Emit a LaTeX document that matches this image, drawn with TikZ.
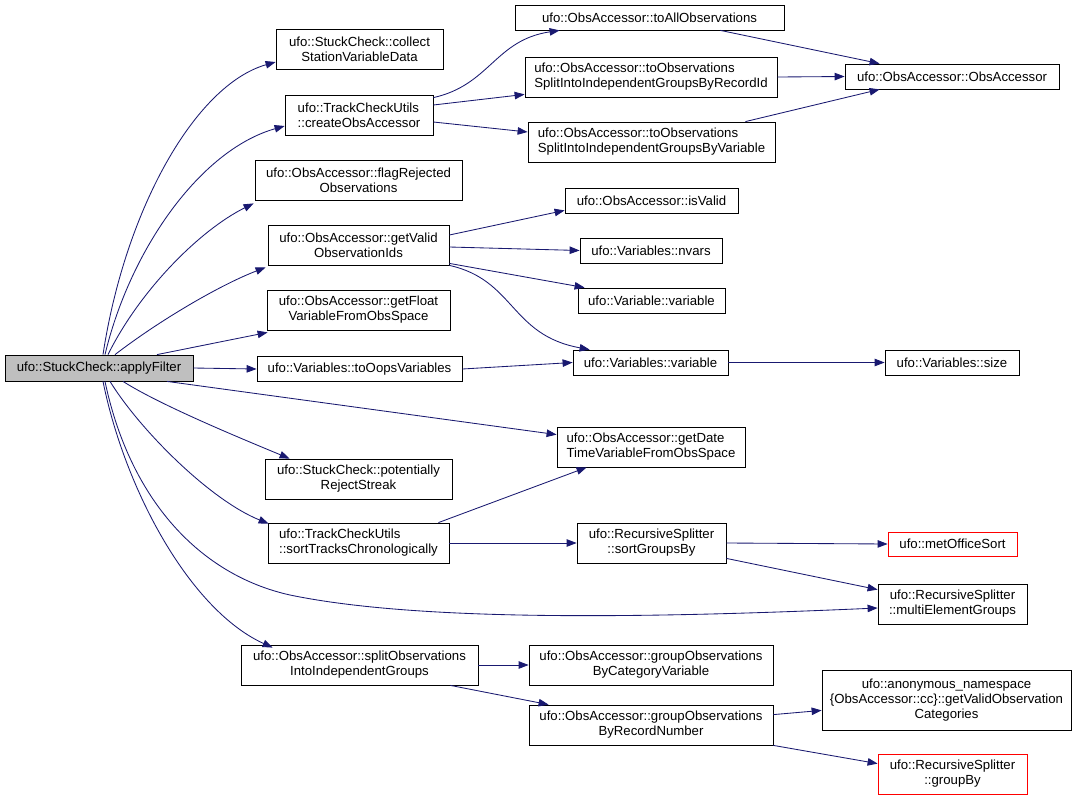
\documentclass[tikz,border=0pt]{standalone}
\usepackage{fontspec}
\setmainfont{Liberation Sans}
\usetikzlibrary{arrows.meta}
\definecolor{edgeblue}{HTML}{191970}
\definecolor{afgray}{HTML}{BFBFBF}
\newcommand{\nodefont}{\fontsize{13.2}{15}\selectfont}
\tikzset{
  box/.style={draw=black, line width=0.8pt, inner sep=0pt, font=\nodefont, align=center},
  lbox/.style={box, align=left},
  redbox/.style={box, draw=red},
  conn/.style={draw=edgeblue, line width=0.85pt, -{Triangle[length=10pt,width=7.5pt]}},
}
\begin{document}
\begin{tikzpicture}[x=1pt,y=-1pt]
\useasboundingbox (0,0) rectangle (1085,801);
% column 1
\node[box, fill=afgray, minimum width=188pt, minimum height=26pt] (af) at (99,368) {ufo::StuckCheck::applyFilter};
% column 2
\node[box, minimum width=167pt, minimum height=40pt] (collect) at (359.5,49) {ufo::StuckCheck::collect\\StationVariableData};
\node[lbox, minimum width=148pt, minimum height=40pt] (create) at (359,115) {ufo::TrackCheckUtils\\::createObsAccessor};
\node[box, minimum width=207pt, minimum height=40pt] (flag) at (358.5,180) {ufo::ObsAccessor::flagRejected\\Observations};
\node[box, minimum width=181pt, minimum height=40pt] (gv) at (358.5,245) {ufo::ObsAccessor::getValid\\ObservationIds};
\node[box, minimum width=183pt, minimum height=40pt] (gf) at (358.5,310) {ufo::ObsAccessor::getFloat\\VariableFromObsSpace};
\node[box, minimum width=205pt, minimum height=25pt] (oops) at (359.5,369) {ufo::Variables::toOopsVariables};
\node[box, minimum width=187pt, minimum height=40pt] (pot) at (358.5,479) {ufo::StuckCheck::potentially\\RejectStreak};
\node[lbox, minimum width=181pt, minimum height=40pt] (st) at (358.5,543) {ufo::TrackCheckUtils\\::sortTracksChronologically};
\node[box, minimum width=237pt, minimum height=40pt] (split) at (359.5,665) {ufo::ObsAccessor::splitObservations\\IntoIndependentGroups};
% column 3
\node[box, minimum width=269pt, minimum height=25pt] (toall) at (649.5,17.5) {ufo::ObsAccessor::toAllObservations};
\node[lbox, minimum width=252pt, minimum height=40pt] (recid) at (651,77) {ufo::ObsAccessor::toObservations\\SplitIntoIndependentGroupsByRecordId};
\node[lbox, minimum width=247pt, minimum height=40pt] (byvar) at (651.5,142) {ufo::ObsAccessor::toObservations\\SplitIntoIndependentGroupsByVariable};
\node[box, minimum width=173pt, minimum height=25pt] (iv) at (651.5,200.5) {ufo::ObsAccessor::isValid};
\node[box, minimum width=142pt, minimum height=25pt] (nv) at (651,250.5) {ufo::Variables::nvars};
\node[box, minimum width=147pt, minimum height=25pt] (vv) at (651.5,300.5) {ufo::Variable::variable};
\node[box, minimum width=155pt, minimum height=25pt] (vsv) at (650.5,362.5) {ufo::Variables::variable};
\node[lbox, minimum width=188pt, minimum height=40pt] (gd) at (651,447) {ufo::ObsAccessor::getDate\\TimeVariableFromObsSpace};
\node[box, minimum width=149pt, minimum height=40pt] (sgb) at (651.5,543) {ufo::RecursiveSplitter\\::sortGroupsBy};
\node[box, minimum width=244pt, minimum height=40pt] (gbc) at (651,665) {ufo::ObsAccessor::groupObservations\\ByCategoryVariable};
\node[box, minimum width=244pt, minimum height=40pt] (gbr) at (651,725) {ufo::ObsAccessor::groupObservations\\ByRecordNumber};
% column 4
\node[box, minimum width=214pt, minimum height=25pt] (oa) at (952,76.5) {ufo::ObsAccessor::ObsAccessor};
\node[box, minimum width=134pt, minimum height=25pt] (size) at (952,362.5) {ufo::Variables::size};
\node[redbox, minimum width=129pt, minimum height=24pt] (mos) at (952.5,544) {ufo::metOfficeSort};
\node[box, minimum width=149pt, minimum height=40pt] (multi) at (952.5,604) {ufo::RecursiveSplitter\\::multiElementGroups};
\node[box, minimum width=249pt, minimum height=60pt] (anon) at (946.5,700) {ufo::anonymous\_namespace\\\{ObsAccessor::cc\}::getValidObservation\\Categories};
\node[redbox, minimum width=149pt, minimum height=40pt] (gb) at (952.5,774) {ufo::RecursiveSplitter\\::groupBy};

% edges from applyFilter
\draw[conn] ([xshift=4pt]af.north) .. controls (125,210) and (195,85) .. ([yshift=-13pt]collect.west);
\draw[conn] ([xshift=6pt]af.north) .. controls (130,250) and (200,150) .. ([yshift=-11pt]create.west);
\draw[conn] ([xshift=9pt]af.north) .. controls (140,290) and (200,230) .. ([xshift=-1pt,yshift=-3pt]flag.south west);
\draw[conn] ([xshift=16pt]af.north) .. controls (160,320) and (220,285) .. ([xshift=-2pt,yshift=-2pt]gv.south west);
\draw[conn] ([xshift=58pt]af.north) -- ([xshift=1pt,yshift=-2pt]gf.south west);
\draw[conn] (af.east) -- (oops.west);
\draw[conn] ([xshift=68pt]af.south) -- ([yshift=-8pt]gd.north west);
\draw[conn] ([xshift=24pt]af.south) .. controls (160,405) and (240,438) .. ([xshift=25pt]pot.north west);
\draw[conn] ([xshift=11pt]af.south) .. controls (140,430) and (210,500) .. ([xshift=1pt,yshift=-1pt]st.north west);
\draw[conn] ([xshift=6pt]af.south) .. controls (130,500) and (200,575) .. (290,595) .. controls (420,622) and (650,618) .. ([yshift=-4pt]multi.west);
\draw[conn] ([xshift=4pt]af.south) .. controls (125,490) and (190,610) .. ([xshift=32pt,yshift=-3pt]split.north west);

% createObsAccessor
\draw[conn] ([yshift=-3pt]create.north east) .. controls (490,85) and (495,40) .. ([xshift=45pt]toall.south west);
\draw[conn] ([yshift=10pt]create.east) -- ([yshift=3pt]recid.south west);
\draw[conn] ([yshift=-7pt]create.east) -- ([yshift=10pt]byvar.west);
% to ObsAccessor
\draw[conn] ([xshift=-64pt]toall.south east) -- ([xshift=35pt]oa.north west);
\draw[conn] (recid.east) -- (oa.west);
\draw[conn] ([xshift=-30pt]byvar.north east) -- ([xshift=35pt]oa.south west);
% getValidObservationIds
\draw[conn] ([yshift=10pt]gv.east) -- ([yshift=3pt]iv.south west);
\draw[conn] ([yshift=-2pt]gv.east) -- (nv.west);
\draw[conn] ([yshift=2pt]gv.south east) -- ([xshift=7pt]vv.north west);
\draw[conn] (gv.south east) .. controls (515,280) and (510,335) .. ([xshift=17pt]vsv.north west);
% toOopsVariables
\draw[conn] (oops.east) -- (vsv.west);
\draw[conn] (vsv.east) -- (size.west);
% sortTracks
\draw[conn] ([xshift=-11pt]st.north east) -- ([xshift=30pt]gd.south west);
\draw[conn] (st.east) -- (sgb.west);
\draw[conn] (sgb.east) -- (mos.west);
\draw[conn] ([yshift=5pt]sgb.south east) -- ([yshift=-6pt]multi.north west);
% split
\draw[conn] (split.east) -- (gbc.west);
\draw[conn] ([xshift=-28pt]split.south east) -- ([xshift=20pt]gbr.north west);
\draw[conn] ([yshift=-10pt]gbr.north east) -- ([yshift=20pt]anon.south west);
\draw[conn] (gbr.south east) -- ([yshift=-10pt]gb.north west);
\end{tikzpicture}
\end{document}
